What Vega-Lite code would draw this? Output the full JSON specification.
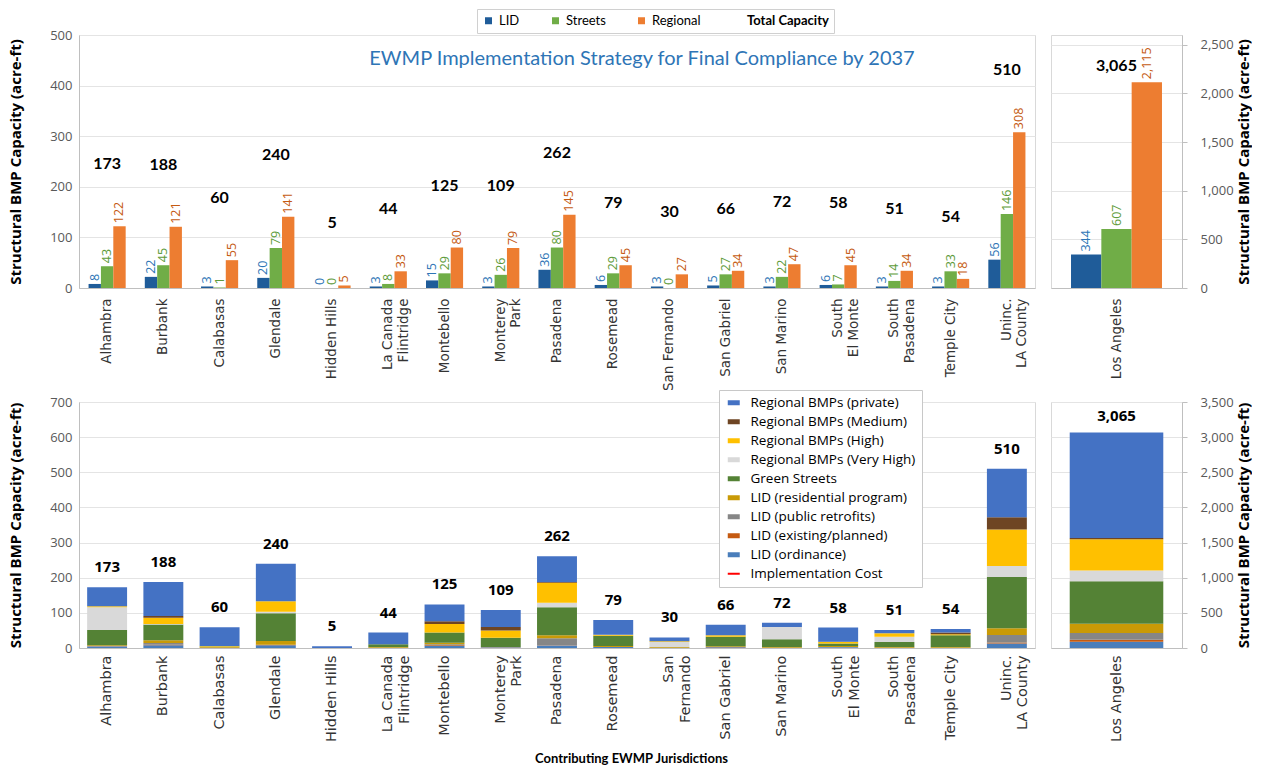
{
  "$schema": "https://vega.github.io/schema/vega-lite/v6.json",
  "background": "white",
  "padding": {"left": 8, "top": 8, "right": 0, "bottom": 3},
  "datasets": {
    "cities": [
      {"j": "Alhambra", "LID": 8, "Streets": 43, "Regional": 122, "Total": 173, "ord": 4, "exist": 1, "pub": 1, "res": 2, "vh": 65, "high": 3, "med": 0, "priv": 54},
      {"j": "Burbank", "LID": 22, "Streets": 45, "Regional": 121, "Total": 188, "ord": 8, "exist": 1, "pub": 5, "res": 8, "vh": 1, "high": 18, "med": 5, "priv": 97},
      {"j": "Calabasas", "LID": 3, "Streets": 1, "Regional": 55, "Total": 60, "ord": 1, "exist": 0, "pub": 0, "res": 2, "vh": 0, "high": 2, "med": 0, "priv": 53},
      {"j": "Glendale", "LID": 20, "Streets": 79, "Regional": 141, "Total": 240, "ord": 8, "exist": 1, "pub": 0, "res": 11, "vh": 4, "high": 30, "med": 0, "priv": 107},
      {"j": "Hidden Hills", "LID": 0, "Streets": 0, "Regional": 5, "Total": 5, "ord": 0, "exist": 0, "pub": 0, "res": 0, "vh": 0, "high": 0, "med": 0, "priv": 5},
      {"j": "La Canada Flintridge", "LID": 3, "Streets": 8, "Regional": 33, "Total": 44, "ord": 1, "exist": 0, "pub": 0, "res": 2, "vh": 0, "high": 0, "med": 0, "priv": 33},
      {"j": "Montebello", "LID": 15, "Streets": 29, "Regional": 80, "Total": 125, "ord": 6, "exist": 2, "pub": 3, "res": 4, "vh": 0, "high": 24, "med": 8, "priv": 48},
      {"j": "Monterey Park", "LID": 3, "Streets": 26, "Regional": 79, "Total": 109, "ord": 1, "exist": 0, "pub": 2, "res": 0, "vh": 0, "high": 21, "med": 10, "priv": 48},
      {"j": "Pasadena", "LID": 36, "Streets": 80, "Regional": 145, "Total": 262, "ord": 7, "exist": 1, "pub": 20, "res": 8, "vh": 13, "high": 57, "med": 2, "priv": 73},
      {"j": "Rosemead", "LID": 6, "Streets": 29, "Regional": 45, "Total": 79, "ord": 3, "exist": 0, "pub": 0, "res": 3, "vh": 0, "high": 3, "med": 0, "priv": 42},
      {"j": "San Fernando", "LID": 3, "Streets": 0, "Regional": 27, "Total": 30, "ord": 1, "exist": 0, "pub": 0, "res": 2, "vh": 14, "high": 2, "med": 0, "priv": 11},
      {"j": "San Gabriel", "LID": 5, "Streets": 27, "Regional": 34, "Total": 66, "ord": 2, "exist": 1, "pub": 0, "res": 2, "vh": 0, "high": 4, "med": 0, "priv": 30},
      {"j": "San Marino", "LID": 3, "Streets": 22, "Regional": 47, "Total": 72, "ord": 1, "exist": 0, "pub": 0, "res": 2, "vh": 35, "high": 0, "med": 0, "priv": 12},
      {"j": "South El Monte", "LID": 6, "Streets": 7, "Regional": 45, "Total": 58, "ord": 2, "exist": 0, "pub": 1, "res": 3, "vh": 0, "high": 4, "med": 1, "priv": 40},
      {"j": "South Pasadena", "LID": 3, "Streets": 14, "Regional": 34, "Total": 51, "ord": 1, "exist": 0, "pub": 0, "res": 2, "vh": 15, "high": 10, "med": 0, "priv": 9},
      {"j": "Temple City", "LID": 3, "Streets": 33, "Regional": 18, "Total": 54, "ord": 1, "exist": 0, "pub": 0, "res": 2, "vh": 0, "high": 3, "med": 5, "priv": 10},
      {"j": "Uninc. LA County", "LID": 56, "Streets": 146, "Regional": 308, "Total": 510, "ord": 13, "exist": 3, "pub": 21, "res": 19, "vh": 31, "high": 104, "med": 35, "priv": 138}
    ],
    "la": [
      {"j": "Los Angeles", "LID": 344, "Streets": 607, "Regional": 2115, "Total": 3065, "ord": 90, "exist": 28, "pub": 95, "res": 131, "vh": 152, "high": 446, "med": 15, "priv": 1502}
    ]
  },
  "config": {
    "view": {"stroke": "#d9d9d9"},
    "axis": {
      "gridColor": "#e4e4e4",
      "domainColor": "#bfbfbf",
      "labelColor": "#595959",
      "labelFont": "Open Sans",
      "labelFontSize": 13,
      "titleFont": "Open Sans",
      "titleFontSize": 15,
      "titleFontWeight": "bold",
      "titleColor": "#000000",
      "ticks": false
    },
    "legend": {"labelFont": "Open Sans", "labelColor": "#000000"}
  },
  "spacing": -3,
  "resolve": {"scale": {"color": "independent", "x": "independent", "y": "independent", "xOffset": "independent"}, "legend": {"color": "independent"}},
  "vconcat": [
    {
      "spacing": 14,
      "resolve": {"scale": {"color": "independent", "x": "independent", "y": "independent", "xOffset": "independent"}, "legend": {"color": "independent"}},
      "hconcat": [
        {
          "width": 956,
          "height": 253,
          "data": {"name": "cities"},
          "title": {"text": "EWMP Implementation Strategy for Final Compliance by 2037", "color": "#2E75B6", "font": "Lato", "fontSize": 20, "fontWeight": "normal", "anchor": "middle", "frame": "group", "orient": "top", "offset": -60, "dx": 85},
          "layer": [
            {
              "transform": [{"fold": ["LID", "Streets", "Regional"], "as": ["type", "value"]}],
              "mark": {"type": "bar"},
              "encoding": {
                "x": {"field": "j", "type": "nominal", "sort": null, "scale": {"paddingInner": 0.34, "paddingOuter": 0.17},
                  "axis": {"title": null, "labelAngle": -90, "labelPadding": 10, "labelFont": "DejaVu Sans", "labelFontSize": 13.5, "labelColor": "#333333",
                    "labelExpr": "datum.label == 'La Canada Flintridge' ? ['La Canada','Flintridge'] : datum.label == 'Monterey Park' ? ['Monterey','Park'] : datum.label == 'South El Monte' ? ['South','El Monte'] : datum.label == 'South Pasadena' ? ['South','Pasadena'] : datum.label == 'Uninc. LA County' ? ['Uninc.','LA County'] : datum.label"}},
                "xOffset": {"field": "type", "sort": ["LID", "Streets", "Regional"], "scale": {"paddingInner": 0, "paddingOuter": 0}},
                "y": {"field": "value", "type": "quantitative", "scale": {"domain": [0, 500]},
                  "axis": {"title": "Structural BMP Capacity (acre-ft)", "values": [0, 100, 200, 300, 400, 500], "labelPadding": 7, "titlePadding": 26}},
                "color": {"field": "type", "type": "nominal",
                  "scale": {"domain": ["LID", "Streets", "Regional", "Total Capacity"], "range": ["#1F5C99", "#70AD47", "#ED7D31", "rgba(0,0,0,0)"]},
                  "legend": {"orient": "none", "legendX": 398, "legendY": -26, "direction": "horizontal", "title": null, "symbolType": "square", "symbolSize": 49, "symbolStrokeWidth": 0, "labelFontSize": 13, "labelFont": "Lato", "columnPadding": 29, "labelOffset": 4, "padding": 5, "strokeColor": "#d0d0d0", "fillColor": "white",
                    "encode": {"labels": {"update": {"fontWeight": {"signal": "datum.label === 'Total Capacity' ? 'bold' : 'normal'"}}}}}}
              }
            },
            {
              "transform": [{"fold": ["LID", "Streets", "Regional"], "as": ["type", "value"]}],
              "mark": {"type": "text", "angle": -90, "align": "left", "baseline": "middle", "dx": 3, "font": "Open Sans", "fontSize": 12.5},
              "encoding": {
                "x": {"field": "j", "type": "nominal", "sort": null, "title": null},
                "xOffset": {"field": "type", "sort": ["LID", "Streets", "Regional"]},
                "y": {"field": "value", "type": "quantitative", "axis": {"title": "Structural BMP Capacity (acre-ft)", "values": [0, 100, 200, 300, 400, 500], "labelPadding": 7, "titlePadding": 26}},
                "text": {"field": "value", "type": "quantitative"},
                "color": {"condition": [{"test": "datum.type == 'LID'", "value": "#2E75B6"}, {"test": "datum.type == 'Streets'", "value": "#5E9B3A"}], "value": "#C55A11"}
              }
            },
            {
              "mark": {"type": "text", "font": "Lato", "fontWeight": "bold", "fontSize": 16, "baseline": "middle", "dy": -62, "color": "#000000"},
              "encoding": {
                "x": {"field": "j", "type": "nominal", "sort": null, "title": null},
                "y": {"field": "Regional", "type": "quantitative", "axis": {"title": "Structural BMP Capacity (acre-ft)", "values": [0, 100, 200, 300, 400, 500], "labelPadding": 7, "titlePadding": 26}},
                "text": {"field": "Total", "type": "quantitative"}
              }
            }
          ]
        },
        {
          "width": 131,
          "height": 253,
          "data": {"name": "la"},
          "layer": [
            {
              "transform": [{"fold": ["LID", "Streets", "Regional"], "as": ["type", "value"]}],
              "mark": {"type": "bar"},
              "encoding": {
                "x": {"field": "j", "type": "nominal", "scale": {"paddingInner": 0, "paddingOuter": 0.22},
                  "axis": {"title": null, "labelAngle": -90, "labelPadding": 10, "labelFont": "DejaVu Sans", "labelFontSize": 13.5, "labelColor": "#333333"}},
                "xOffset": {"field": "type", "sort": ["LID", "Streets", "Regional"], "scale": {"paddingInner": 0, "paddingOuter": 0}},
                "y": {"field": "value", "type": "quantitative", "scale": {"domain": [0, 2500]},
                  "axis": {"orient": "right", "title": "Structural BMP Capacity (acre-ft)", "values": [0, 500, 1000, 1500, 2000, 2500], "format": ",.0f", "ticks": true, "tickSize": 5, "tickColor": "#bfbfbf", "labelPadding": 13, "titlePadding": 18, "titleAngle": -90}},
                "color": {"field": "type", "type": "nominal",
                  "scale": {"domain": ["LID", "Streets", "Regional", "Total Capacity"], "range": ["#1F5C99", "#70AD47", "#ED7D31", "rgba(0,0,0,0)"]},
                  "legend": null}
              }
            },
            {
              "transform": [{"fold": ["LID", "Streets", "Regional"], "as": ["type", "value"]}],
              "mark": {"type": "text", "angle": -90, "align": "left", "baseline": "middle", "dx": 3, "font": "Open Sans", "fontSize": 12.5},
              "encoding": {
                "x": {"field": "j", "type": "nominal", "title": null},
                "xOffset": {"field": "type", "sort": ["LID", "Streets", "Regional"]},
                "y": {"field": "value", "type": "quantitative", "axis": {"orient": "right", "title": "Structural BMP Capacity (acre-ft)", "values": [0, 500, 1000, 1500, 2000, 2500], "format": ",.0f", "ticks": true, "tickSize": 5, "tickColor": "#bfbfbf", "labelPadding": 13, "titlePadding": 18, "titleAngle": -90}},
                "text": {"field": "value", "type": "quantitative", "format": ","},
                "color": {"condition": [{"test": "datum.type == 'LID'", "value": "#2E75B6"}, {"test": "datum.type == 'Streets'", "value": "#5E9B3A"}], "value": "#C55A11"}
              }
            },
            {
              "mark": {"type": "text", "font": "Lato", "fontWeight": "bold", "fontSize": 16, "baseline": "middle", "dy": -16, "color": "#000000"},
              "encoding": {
                "x": {"field": "j", "type": "nominal", "title": null},
                "y": {"field": "Regional", "type": "quantitative", "axis": {"orient": "right", "title": "Structural BMP Capacity (acre-ft)", "values": [0, 500, 1000, 1500, 2000, 2500], "format": ",.0f", "ticks": true, "tickSize": 5, "tickColor": "#bfbfbf", "labelPadding": 13, "titlePadding": 18, "titleAngle": -90}},
                "text": {"field": "Total", "type": "quantitative", "format": ","}
              }
            }
          ]
        }
      ]
    },
    {
      "spacing": 14,
      "resolve": {"scale": {"color": "independent", "x": "independent", "y": "independent"}, "legend": {"color": "independent"}},
      "hconcat": [
        {
          "width": 956,
          "height": 246,
          "data": {"name": "cities"},
          "layer": [
            {
              "transform": [
                {"fold": ["ord", "exist", "pub", "res", "Streets", "vh", "high", "med", "priv"], "as": ["k", "v"]},
                {"calculate": "indexof(['ord','exist','pub','res','Streets','vh','high','med','priv'], datum.k)", "as": "o"},
                {"calculate": "['LID (ordinance)','LID (existing/planned)','LID (public retrofits)','LID (residential program)','Green Streets','Regional BMPs (Very High)','Regional BMPs (High)','Regional BMPs (Medium)','Regional BMPs (private)'][datum.o]", "as": "cat"}
              ],
              "mark": {"type": "bar"},
              "encoding": {
                "x": {"field": "j", "type": "nominal", "sort": null, "scale": {"paddingInner": 0.29, "paddingOuter": 0.145},
                  "axis": {"title": "Contributing EWMP Jurisdictions", "titleX": 552, "titleFont": "Lato", "titleFontSize": 13, "titlePadding": 11, "labelAngle": -90, "labelPadding": 7, "labelFont": "DejaVu Sans", "labelFontSize": 14.5, "labelColor": "#333333",
                    "labelExpr": "datum.label == 'La Canada Flintridge' ? ['La Canada','Flintridge'] : datum.label == 'Monterey Park' ? ['Monterey','Park'] : datum.label == 'San Fernando' ? ['San','Fernando'] : datum.label == 'South El Monte' ? ['South','El Monte'] : datum.label == 'South Pasadena' ? ['South','Pasadena'] : datum.label == 'Uninc. LA County' ? ['Uninc.','LA County'] : datum.label"}},
                "y": {"field": "v", "type": "quantitative", "stack": "zero", "scale": {"domain": [0, 700]},
                  "axis": {"title": "Structural BMP Capacity (acre-ft)", "values": [0, 100, 200, 300, 400, 500, 600, 700], "labelPadding": 7, "titlePadding": 26}},
                "order": {"field": "o", "type": "quantitative"},
                "color": {"field": "cat", "type": "nominal",
                  "scale": {"domain": ["Regional BMPs (private)", "Regional BMPs (Medium)", "Regional BMPs (High)", "Regional BMPs (Very High)", "Green Streets", "LID (residential program)", "LID (public retrofits)", "LID (existing/planned)", "LID (ordinance)", "Implementation Cost"],
                    "range": ["#4472C4", "#6E4523", "#FFC000", "#D9D9D9", "#548235", "#C99A06", "#868686", "#C55A11", "#4A7EBB", "#FF0000"]},
                  "legend": {"orient": "none", "legendX": 640, "legendY": -12, "title": null, "symbolType": "M-1.2,-0.5H1.2V0.5H-1.2Z", "symbolSize": 100, "symbolStrokeWidth": 0, "symbolOffset": 2, "labelOffset": 10, "labelFontSize": 13.5, "labelLimit": 300, "rowPadding": 4, "padding": 6, "strokeColor": "#c8c8c8", "fillColor": "white",
                    "encode": {"symbols": {"update": {
                      "shape": {"signal": "datum.label === 'Implementation Cost' ? 'M-1.2,0H1.2' : 'M-1.2,-0.5H1.2V0.5H-1.2Z'"},
                      "stroke": {"signal": "datum.label === 'Implementation Cost' ? '#FF0000' : 'transparent'"},
                      "strokeWidth": {"value": 2}}}}}}
              }
            },
            {
              "mark": {"type": "text", "font": "Open Sans", "fontWeight": "bold", "fontSize": 15, "baseline": "middle", "dy": -20, "color": "#000000"},
              "encoding": {
                "x": {"field": "j", "type": "nominal", "sort": null, "title": "Contributing EWMP Jurisdictions"},
                "y": {"field": "Total", "type": "quantitative", "axis": {"title": "Structural BMP Capacity (acre-ft)", "values": [0, 100, 200, 300, 400, 500, 600, 700], "labelPadding": 7, "titlePadding": 26}},
                "text": {"field": "Total", "type": "quantitative"}
              }
            }
          ]
        },
        {
          "width": 131,
          "height": 246,
          "data": {"name": "la"},
          "layer": [
            {
              "transform": [
                {"fold": ["ord", "exist", "pub", "res", "Streets", "vh", "high", "med", "priv"], "as": ["k", "v"]},
                {"calculate": "indexof(['ord','exist','pub','res','Streets','vh','high','med','priv'], datum.k)", "as": "o"},
                {"calculate": "['LID (ordinance)','LID (existing/planned)','LID (public retrofits)','LID (residential program)','Green Streets','Regional BMPs (Very High)','Regional BMPs (High)','Regional BMPs (Medium)','Regional BMPs (private)'][datum.o]", "as": "cat"}
              ],
              "mark": {"type": "bar"},
              "encoding": {
                "x": {"field": "j", "type": "nominal", "scale": {"paddingInner": 0, "paddingOuter": 0.2},
                  "axis": {"title": null, "labelAngle": -90, "labelPadding": 7, "labelFont": "DejaVu Sans", "labelFontSize": 14.5, "labelColor": "#333333"}},
                "y": {"field": "v", "type": "quantitative", "stack": "zero", "scale": {"domain": [0, 3500]},
                  "axis": {"orient": "right", "title": "Structural BMP Capacity (acre-ft)", "values": [0, 500, 1000, 1500, 2000, 2500, 3000, 3500], "format": ",.0f", "ticks": true, "tickSize": 5, "tickColor": "#bfbfbf", "labelPadding": 13, "titlePadding": 18, "titleAngle": -90}},
                "order": {"field": "o", "type": "quantitative"},
                "color": {"field": "cat", "type": "nominal",
                  "scale": {"domain": ["Regional BMPs (private)", "Regional BMPs (Medium)", "Regional BMPs (High)", "Regional BMPs (Very High)", "Green Streets", "LID (residential program)", "LID (public retrofits)", "LID (existing/planned)", "LID (ordinance)", "Implementation Cost"],
                    "range": ["#4472C4", "#6E4523", "#FFC000", "#D9D9D9", "#548235", "#C99A06", "#868686", "#C55A11", "#4A7EBB", "#FF0000"]},
                  "legend": null}
              }
            },
            {
              "mark": {"type": "text", "font": "Open Sans", "fontWeight": "bold", "fontSize": 15, "baseline": "middle", "dy": -17, "color": "#000000"},
              "encoding": {
                "x": {"field": "j", "type": "nominal", "title": null},
                "y": {"field": "Total", "type": "quantitative", "axis": {"orient": "right", "title": "Structural BMP Capacity (acre-ft)", "values": [0, 500, 1000, 1500, 2000, 2500, 3000, 3500], "format": ",.0f", "ticks": true, "tickSize": 5, "tickColor": "#bfbfbf", "labelPadding": 13, "titlePadding": 18, "titleAngle": -90}},
                "text": {"field": "Total", "type": "quantitative", "format": ","}
              }
            }
          ]
        }
      ]
    }
  ]
}
